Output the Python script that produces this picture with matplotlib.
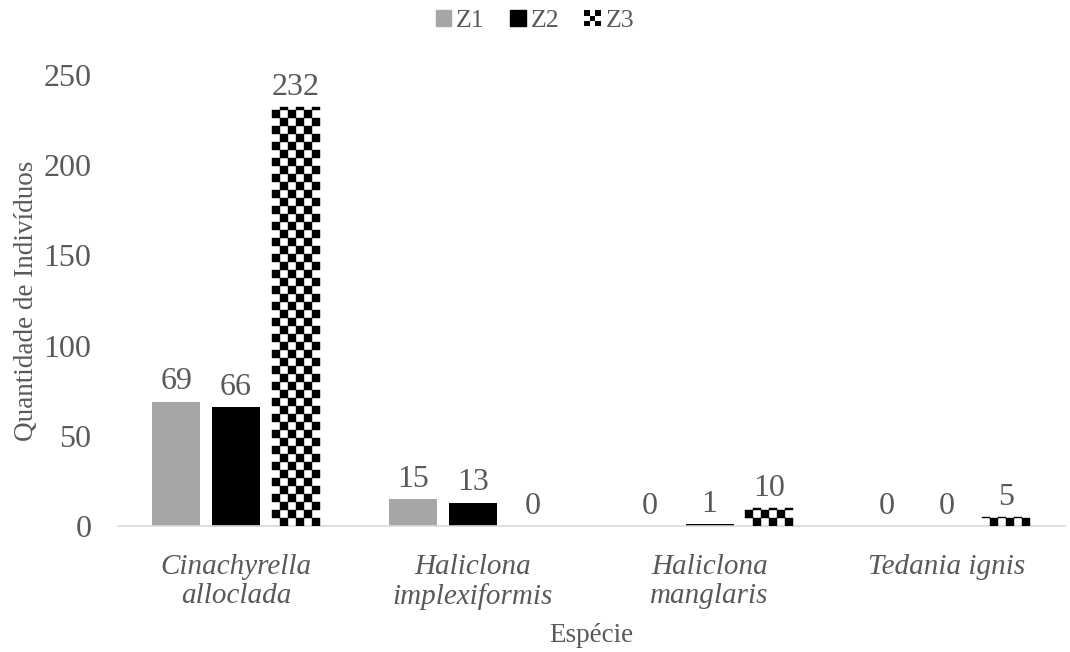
import numpy as np
import matplotlib
matplotlib.use("Agg")
import matplotlib.pyplot as plt
from matplotlib.patches import Rectangle
from matplotlib.legend_handler import HandlerBase

plt.rcParams['font.family'] = ['Liberation Serif', 'DejaVu Serif']

especies = ['Cinachyrella\nalloclada', 'Haliclona\nimplexiformis',
            'Haliclona\nmanglaris', 'Tedania ignis']
z1 = [69, 15, 0, 0]
z2 = [66, 13, 1, 0]
z3 = [232, 0, 10, 5]
series = ['Z1', 'Z2', 'Z3']

txt = '#595959'
fig = plt.figure(figsize=(10.70, 6.52), dpi=100)
ax = fig.add_axes([0.110, 0.193, 0.885, 0.692])

x = np.arange(len(especies))
w = 0.2025
step = 0.253

ax.set_xlim(-0.5, len(especies) - 0.5)
ax.set_ylim(0, 250)

b1 = ax.bar(x - step, z1, w, color='#a6a6a6')
b2 = ax.bar(x, z2, w, color='black')
b3 = ax.bar(x + step, z3, w, color='white')

# checkerboard fill for Z3, squares of about 8 px
bbox = ax.get_window_extent()
cw = 8 * 4.0 / bbox.width
ch = 8 * 250.0 / bbox.height
for bar in b3:
    x0, h = bar.get_x(), bar.get_height()
    nx = int(round(bar.get_width() / cw))
    ny = int(np.ceil(h / ch))
    for i in range(ny):
        for j in range(nx):
            if (i + j) % 2 == 0:
                continue
            y0 = i * ch
            ax.add_patch(Rectangle((x0 + j * cw, y0), cw, min(ch, h - y0),
                                   facecolor='black', edgecolor='black',
                                   linewidth=0.3, zorder=3))

for bars, vals in ((b1, z1), (b2, z2), (b3, z3)):
    for bar, v in zip(bars, vals):
        ax.text(bar.get_x() + bar.get_width() / 2, v + 3, str(v),
                ha='center', va='bottom', fontsize=23, color=txt)

ax.set_xticks(x)
ax.set_xticklabels(especies, fontsize=21, color=txt, style='italic',
                   linespacing=1.15)
ax.set_yticks(range(0, 251, 50))
ax.tick_params(axis='y', labelsize=23, labelcolor=txt, length=0, pad=19)
ax.tick_params(axis='x', length=0, pad=20)
for s in ('top', 'right', 'left'):
    ax.spines[s].set_visible(False)
ax.spines['bottom'].set_color('#d9d9d9')
ax.spines['bottom'].set_linewidth(1.2)

ax.set_ylabel('Quantidade de Indivíduos', fontsize=19.5, color=txt, labelpad=3)
ax.set_xlabel('Espécie', fontsize=19.5, color=txt, labelpad=9)


class CheckerHandler(HandlerBase):
    def create_artists(self, legend, orig_handle, xdescent, ydescent,
                       width, height, fontsize, trans):
        s = height / 3
        x0 = width - height
        arts = []
        for i in range(3):
            for j in range(3):
                if (i + j) % 2 == 0:
                    arts.append(Rectangle((x0 + j * s - xdescent, i * s - ydescent),
                                          s, s, facecolor='black', transform=trans))
        return arts


h1 = Rectangle((0, 0), 1, 1, color='#a6a6a6')
h2 = Rectangle((0, 0), 1, 1, color='black')
h3 = Rectangle((0, 0), 1, 1, color='white')
fig.legend([h1, h2, h3], series, loc='upper center', bbox_to_anchor=(0.5, 1.02),
           ncol=3, frameon=False, fontsize=18.5, labelcolor=txt,
           handlelength=0.6, handleheight=0.6, handletextpad=0.2,
           columnspacing=1.0, handler_map={h3: CheckerHandler()})

fig.savefig('out.png', dpi=100)
